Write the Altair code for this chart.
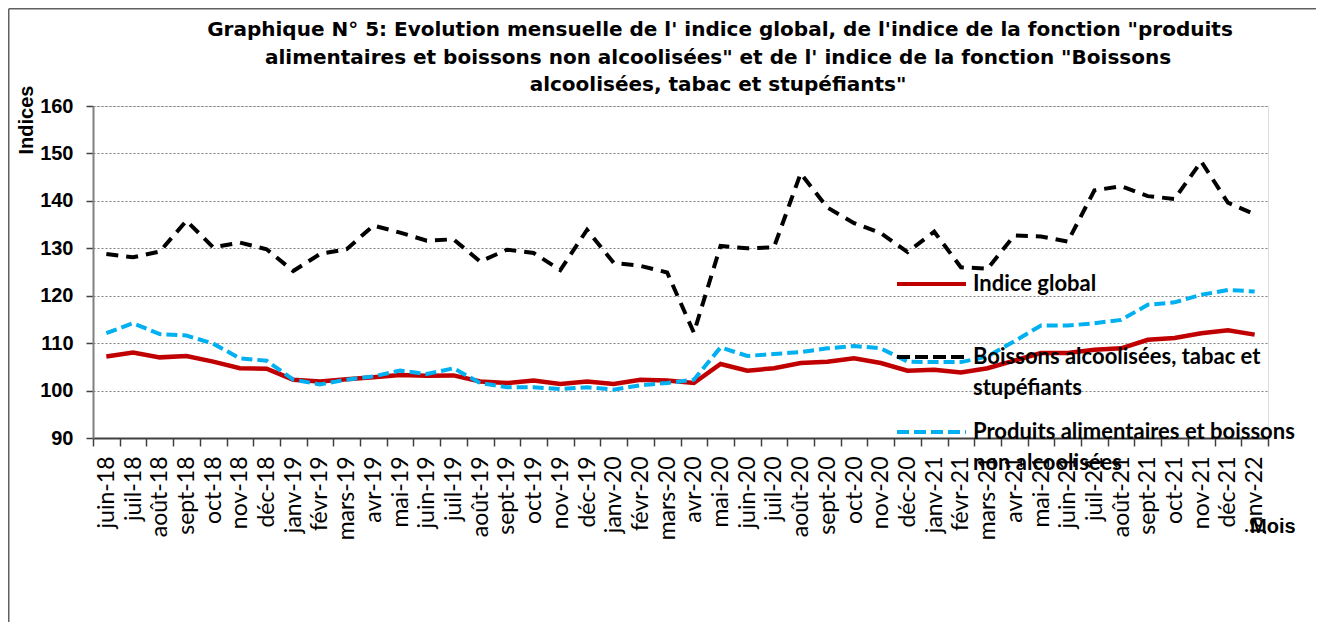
import altair as alt
import pandas as pd

months = ["juin-18","juil-18","août-18","sept-18","oct-18","nov-18","déc-18","janv-19","févr-19","mars-19",
          "avr-19","mai-19","juin-19","juil-19","août-19","sept-19","oct-19","nov-19","déc-19","janv-20",
          "févr-20","mars-20","avr-20","mai-20","juin-20","juil-20","août-20","sept-20","oct-20","nov-20",
          "déc-20","janv-21","févr-21","mars-21","avr-21","mai-21","juin-21","juil-21","août-21","sept-21",
          "oct-21","nov-21","déc-21","janv-22"]

indice_global = [107.2,108.0,107.0,107.3,106.1,104.7,104.6,102.3,101.9,102.4,
                 102.8,103.3,103.1,103.2,101.9,101.6,102.1,101.4,101.9,101.4,
                 102.3,102.1,101.6,105.6,104.2,104.7,105.8,106.1,106.8,105.8,
                 104.2,104.4,103.8,104.7,106.3,107.9,107.9,108.6,108.9,110.7,
                 111.1,112.1,112.7,111.8]

boissons = [128.8,128.1,129.3,135.8,130.2,131.2,129.8,125.2,128.8,129.8,
            134.8,133.3,131.6,131.9,127.2,129.7,129.0,125.4,133.9,126.9,
            126.3,124.9,112.2,130.5,130.0,130.2,145.8,138.6,135.3,133.2,
            129.2,133.5,126.0,125.7,132.7,132.5,131.4,142.2,143.1,141.0,
            140.4,148.3,139.6,137.2]

produits = [112.1,114.2,111.9,111.6,109.9,106.8,106.3,102.3,101.3,102.3,
            103.0,104.2,103.5,104.7,101.6,100.7,100.7,100.3,100.7,100.2,
            101.1,101.6,102.3,109.1,107.3,107.7,108.1,108.9,109.4,108.9,
            106.1,106.0,106.0,107.2,110.4,113.7,113.7,114.2,114.9,118.1,
            118.6,120.2,121.2,120.9]

series_names = ["Indice global",
                "Boissons alcoolisées, tabac et stupéfiants",
                "Produits alimentaires et boissons non alcoolisées"]

title_lines = ["Graphique N° 5: Evolution mensuelle de l' indice global, de l'indice de la fonction \"produits",
               "alimentaires et boissons non alcoolisées\" et de l' indice de la fonction \"Boissons",
               "alcoolisées, tabac et stupéfiants\""]

W, H = 1175, 332

rows = []
for name, vals in zip(series_names, [indice_global, boissons, produits]):
    for m, v in zip(months, vals):
        rows.append({"mois": m, "valeur": v, "serie": name})
df = pd.DataFrame(rows)

x_enc = alt.X("mois:N", sort=months, bandPosition=0.5,
              scale=alt.Scale(type="band", paddingInner=0, paddingOuter=0),
              axis=alt.Axis(title=None, labelAngle=270, labelAlign="right", labelBaseline="middle",
                            labelFont="Lato", labelFontSize=23, labelColor="#000000",
                            tickBand="extent", tickSize=8, labelPadding=10,
                            domainColor="#404040", domainWidth=2, tickColor="#404040", tickWidth=1.5,
                            grid=False, labelOverlap=False))
y_enc = alt.Y("valeur:Q",
              scale=alt.Scale(domain=[90, 160], nice=False, zero=False),
              axis=alt.Axis(title=None, values=[90,100,110,120,130,140,150,160],
                            labelFont="Liberation Sans", labelFontWeight="bold", labelFontSize=20,
                            labelColor="#000000", tickSize=7, labelPadding=13,
                            domainColor="#808080", domainWidth=2, tickColor="#404040", tickWidth=1.5,
                            grid=True, gridColor="#808080", gridDash=[2, 2], gridWidth=1))

base = alt.Chart(df)
red = base.transform_filter(alt.datum.serie == series_names[0]).mark_line(
    color="#C00000", strokeWidth=4.5).encode(x=x_enc, y=y_enc)
black = base.transform_filter(alt.datum.serie == series_names[1]).mark_line(
    color="#000000", strokeWidth=4, strokeDash=[12, 8]).encode(x=x_enc, y=y_enc)
blue = base.transform_filter(alt.datum.serie == series_names[2]).mark_line(
    color="#00B0F0", strokeWidth=4, strokeDash=[11, 5]).encode(x=x_enc, y=y_enc)

def txt(t, x, y, font, size, weight="bold", align="left"):
    return alt.Chart(pd.DataFrame({"t": [t]})).mark_text(
        font=font, fontSize=size, fontWeight=weight, align=align, baseline="middle", color="#000000"
    ).encode(text="t:N", x=alt.value(x), y=alt.value(y))

def rule(x, x2, y, y2, color, width, dash=None):
    kw = dict(color=color, strokeWidth=width)
    if dash:
        kw["strokeDash"] = dash
    return alt.Chart(pd.DataFrame({"a": [0]})).mark_rule(**kw).encode(
        x=alt.value(x), x2=alt.value(x2), y=alt.value(y), y2=alt.value(y2))

# legend
leg = [
    rule(804, 873, 178, 178, "#C00000", 4),
    rule(804, 873, 251, 251, "#000000", 4, [13, 5]),
    rule(804, 873, 326, 326, "#00B0F0", 4, [12, 5]),
    txt("Indice global", 880, 178, "Lato", 22),
    txt("Boissons alcoolisées, tabac et", 880, 251, "Lato", 22),
    txt("stupéfiants", 880, 282, "Lato", 22),
    txt("Produits alimentaires et boissons", 880, 326, "Lato", 22),
    txt("non alcoolisées", 880, 357, "Lato", 22),
]

titles = [
    txt(title_lines[0], 627, -76, "DejaVu Sans", 20, align="center"),
    txt(title_lines[1], 625, -48, "DejaVu Sans", 20, align="center"),
    txt(title_lines[2], 625, -21, "DejaVu Sans", 20, align="center"),
]

axis_titles = [
    alt.Chart(pd.DataFrame({"t": ["Indices"]})).mark_text(
        font="Liberation Sans", fontSize=20, fontWeight="bold", angle=270, align="center",
        baseline="middle", color="#000000").encode(text="t:N", x=alt.value(-66), y=alt.value(14)),
    txt("Mois", 1157, 421, "Liberation Sans", 20),
]

frame = [
    rule(-84.25, -84.25, -97.25, 520, "#606060", 1.5),
    rule(-84.25, 1240, -97.25, -97.25, "#606060", 1.5),
]

chart = alt.layer(red, black, blue, *leg, *titles, *axis_titles, *frame).properties(
    width=W, height=H,
    autosize=alt.AutoSizeParams(type="none"),
    padding={"left": 85, "top": 98, "right": 48, "bottom": 184},
).configure_view(stroke="#868686", strokeWidth=2).configure(background="white")

chart.save("out.html", embed_options={"renderer": "svg", "actions": False})
